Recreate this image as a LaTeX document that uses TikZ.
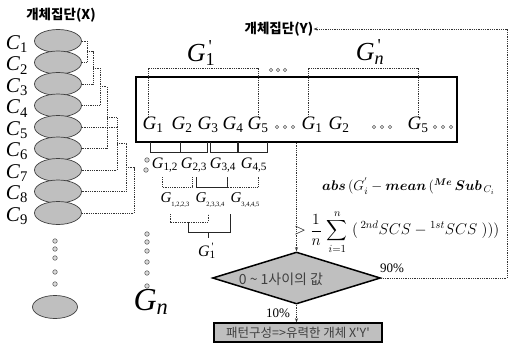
\RequirePackage{fix-cm}
\documentclass[tikz,border=0pt]{standalone}
\usepackage{amsmath}
\usepackage{fontspec}
\setmainfont{Liberation Serif}
\newfontfamily\kr{Noto Sans CJK KR}
\usetikzlibrary{shapes.geometric,arrows.meta}
\newcommand{\myfs}[1]{\fontsize{#1}{#1}\selectfont}
\newcommand{\Gi}[1]{\textit{G}\textsubscript{#1}}
\newcommand{\Gpr}[1]{\textit{G}\makebox[0pt][l]{\textsuperscript{\,\textquotesingle}}\textsubscript{#1}}
\newcommand{\Gt}[1]{\textit{G}\raisebox{-0.3em}{\myfs{6.5}#1}}
\newcommand{\Ci}[1]{\textit{C}\textsubscript{#1}}
\begin{document}
\begin{tikzpicture}[x=1pt,y=-1pt,
  ell/.style={ellipse, draw=black!75, fill=gray!50, minimum width=47pt, minimum height=23pt, inner sep=0pt, line width=0.7pt},
  clab/.style={font=\myfs{21}, inner sep=0pt},
  den/.style={line width=0.7pt, black!80, dash pattern=on 1pt off 0.8pt},
  brk/.style={line width=0.7pt, black!85},
  gbox/.style={font=\myfs{19}, inner sep=0pt},
  gpair/.style={font=\myfs{16}, inner sep=0pt},
  gtrip/.style={font=\myfs{15}, inner sep=0pt},
  tdot/.style={circle, draw=black!60, fill=gray!25, minimum size=3.5pt, inner sep=0pt, line width=0.5pt},
  bdot/.style={circle, draw=black!60, fill=gray!30, minimum size=4.5pt, inner sep=0pt, line width=0.6pt},
  arr/.style={den, -{Stealth[length=4pt,width=3pt]}},
  krb/.style={font=\kr\bfseries\myfs{13.5}, inner sep=0pt},
  pct/.style={font=\myfs{13}, inner sep=0pt}
]
\useasboundingbox (0,0) rectangle (509,351);

% title X
\node[krb] (tx) at (61,15) {개체집단(X)};

% ellipses and labels
\foreach \i in {1,...,9}{
  \node[ell] (e\i) at (58,{41+21.5*(\i-1)}) {};
  \node[clab] (c\i) at (17,{44+21.5*(\i-1)}) {\Ci{\i}};
}
\node[ell, minimum width=45pt] (e10) at (55,307) {};
\foreach \y [count=\k] in {241,249,258,272,284}{
  \node[bdot] (ed\k) at (55,\y) {};
}

% dendrogram
\draw[den] (e1.east) -| (87,51.75) |- (e2.east);
\coordinate (m1) at (87,51.75);
\draw[den] (m1) -- (93,51.75) |- (e3.east);
\coordinate (m2) at (93,67.9);
\draw[den] (m2) -- (100,67.9) |- (e4.east);
\coordinate (m3) at (100,86.7);
\draw[den] (m3) -- (107,86.7) |- (e6.east);
\coordinate (m4) at (107,117.6);
\draw[den] (m4) -- (117,117.6) |- (e7.east);
\coordinate (m5a) at (117,127);
\draw[den] (e5.east) -- (m5a);
\coordinate (m5) at (117,143.8);
\draw[den] (m5) -- (126,143.8) |- (e8.east);
\coordinate (m6) at (126,167.6);
\draw[den] (m6) -- (134,167.6) |- (e9.east);

% main box
\node[draw, line width=1.5pt, minimum width=321pt, minimum height=65pt, inner sep=0pt] (box) at (296.5,109.5) {};

% G labels in box
\node[gbox] (g1) at (153,125) {\Gi{1}};
\node[gbox] (g2) at (182,125) {\Gi{2}};
\node[gbox] (g3) at (208,125) {\Gi{3}};
\node[gbox] (g4) at (233,125) {\Gi{4}};
\node[gbox] (g5) at (258,125) {\Gi{5}};
\node[gbox] (h1) at (312,125) {\Gi{1}};
\node[gbox] (h2) at (339,125) {\Gi{2}};
\node[gbox] (h5) at (418,125) {\Gi{5}};
\foreach \x [count=\k] in {277,285,293}{ \node[tdot] (da\k) at (\x,127) {}; }
\foreach \x [count=\k] in {374,382,390}{ \node[tdot] (db\k) at (\x,127) {}; }
\foreach \x [count=\k] in {435,443,451}{ \node[tdot] (dc\k) at (\x,127) {}; }

% upper brackets
\coordinate (u1) at (148,68);
\coordinate (u2) at (258,68);
\coordinate (u3) at (308,68);
\coordinate (u4) at (418,68);
\draw[den] (u1 |- g1.north) -- (u1) -- (u2) -- (u2 |- g5.north);
\draw[den] (u3 |- h1.north) -- (u3) -- (u4) -- (u4 |- h5.north);
\node[font=\myfs{26}, inner sep=0pt] (gp1) at (201,53) {\Gpr{1}};
\node[font=\myfs{26}, inner sep=0pt] (gpn) at (370,52) {\Gpr{\textit{n}}};
\foreach \x [count=\k] in {271,278,285}{ \node[tdot] (dd\k) at (\x,70) {}; }

% pair brackets below box
\draw[brk] (150,142) -- (150,152) -- (180,152) -- (180,142);
\draw[brk] (180,142) -- (180,152) -- (207,152) -- (207,142);
\draw[brk] (210,142) -- (210,152) -- (237,152) -- (237,142);
\draw[brk] (238,142) -- (238,152) -- (267,152) -- (267,142);
\node[gpair] (p12) at (165,165) {\Gi{1,2}};
\node[gpair] (p23) at (194,165) {\Gi{2,3}};
\node[gpair] (p34) at (223,165) {\Gi{3,4}};
\node[gpair] (p45) at (254,165) {\Gi{4,5}};
\node[bdot] (pd1) at (147,160) {};
\node[bdot] (pd2) at (146,170) {};

% second level
\draw[den] (162,177) -- (162,187) -- (192,187) -- (192,177);
\draw[brk] (196,177) -- (196,187) -- (227,187) -- (227,177);
\draw[den] (227,177) -- (227,187) -- (258,187) -- (258,177);
\node[gtrip] (t1) at (175,200) {\Gt{1,2,2,3}};
\node[gtrip] (t2) at (210,200) {\Gt{2,3,3,4}};
\node[gtrip] (t3) at (245,200) {\Gt{3,4,4,5}};

% third level
\draw[den] (170,214) -- (170,222) -- (208,222) -- (208,214);
\draw[brk] (188,222) -- (188,232) -- (230,232) -- (230,214);
\draw[brk] (208,232) -- (208,238);
\node[font=\myfs{16}, inner sep=0pt] (gq) at (207,251) {\Gpr{1}};

% G_n column
\foreach \y [count=\k] in {234,242,251,262,273,286}{ \node[bdot] (gd\k) at (147,\y) {}; }
\node[font=\myfs{32}, inner sep=0pt] (gn) at (151,302) {\Gi{\textit{n}}};

% title Y and feedback
\node[krb] (ty) at (279,29) {개체집단(Y)};

% formula
\node[anchor=west, font=\myfs{14}, inner sep=0pt] (f1) at (322,186)
  {$\boldsymbol{abs}\,(G_{i}^{'} - \boldsymbol{mean}\,({}^{\boldsymbol{Me}}\,\boldsymbol{Sub}_{\,C_{i}}$};
\node[anchor=west, font=\myfs{15.5}, inner sep=0pt] (f2) at (294,232)
  {$>\dfrac{1}{n}\,\displaystyle\sum_{i=1}^{n}\;(\,{}^{2nd}SCS - {}^{1st}SCS\;)))$};

% diamond
\node[diamond, draw, line width=1.5pt, fill=gray!50, aspect=3.2, minimum width=168pt, minimum height=52pt, inner sep=0pt] (dia) at (296.5,278) {};
\node[font=\kr\myfs{14}, text=black!75, inner sep=0pt] (dtx) at (281,279) {0 \textasciitilde\ 1사이의 값};

% result box
\node[draw, line width=1.5pt, fill=gray!50, minimum width=168pt, minimum height=19pt, inner sep=0pt, font=\kr\myfs{12.5}, text=black!75] (res) at (298,332.5) {패턴구성=>유력한 개체 X'Y'};

\coordinate (rc) at (507,29);
\draw[arr] (box.south -| dia.north) -- (dia.north);
\draw[arr] (dia.south) -- (dia.south |- res.north);
\draw[arr] (dia.east) -| (rc) -- (ty.east);
\node[pct] (p90) at (392,268) {90\%};
\node[pct] (p10) at (278,313) {10\%};
\end{tikzpicture}
\end{document}
